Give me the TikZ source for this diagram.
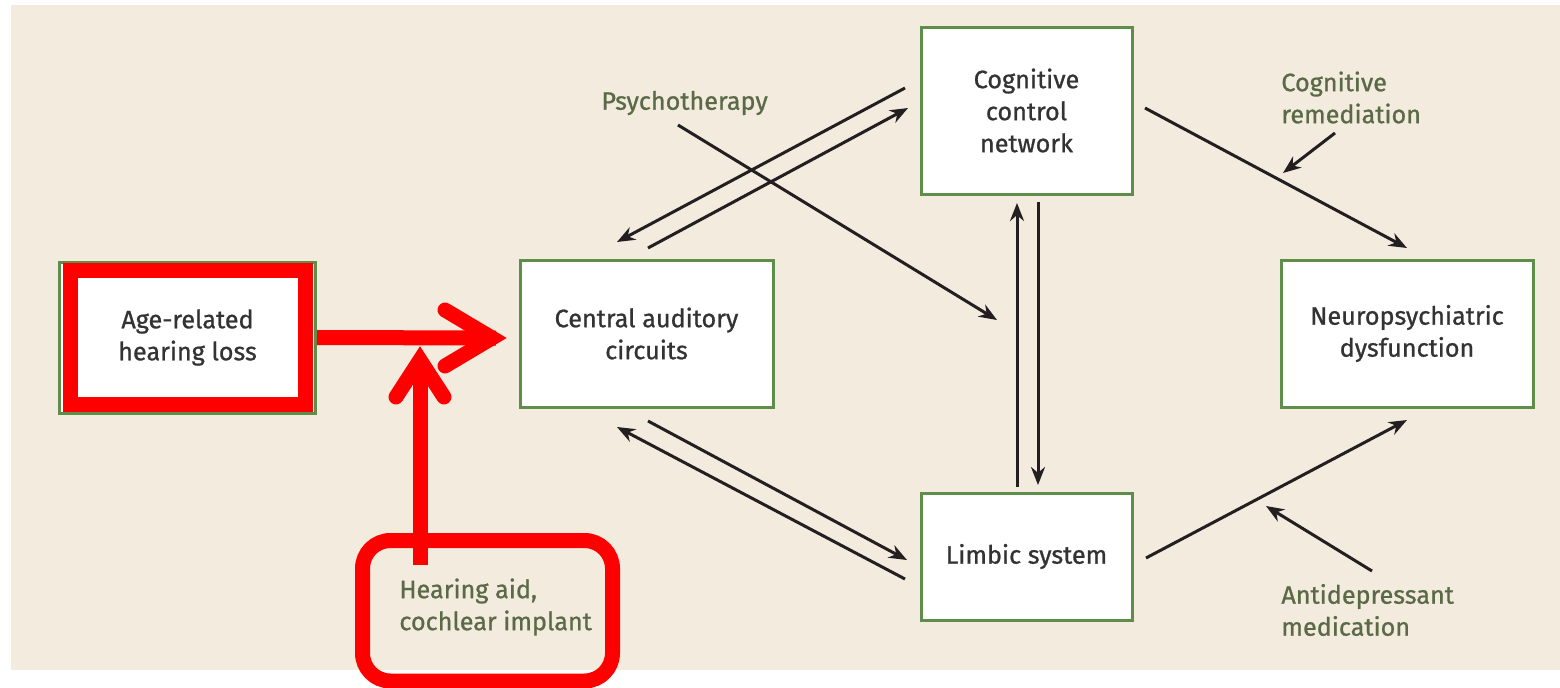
\documentclass[tikz,border=0pt]{standalone}
\usepackage{fontspec}
\setmainfont{Fira Sans}[FakeBold=0.9]
\usetikzlibrary{arrows.meta,calc}
\definecolor{bg}{HTML}{F4EBDF}
\definecolor{boxgreen}{HTML}{5E8E4A}
\definecolor{labgreen}{HTML}{5A6A46}
\definecolor{boxtext}{HTML}{333333}
\definecolor{redc}{HTML}{FF0000}
\definecolor{arrowc}{HTML}{231F20}
\begin{document}
\begin{tikzpicture}[x=0.5pt,y=-0.5pt,
  box/.style={draw=boxgreen,line width=1.5pt,fill=white,inner sep=0pt,text=boxtext,align=center,font=\fontsize{12.6}{16}\selectfont},
  lab/.style={text=labgreen,align=left,anchor=west,inner sep=0pt,font=\fontsize{12.6}{16}\selectfont},
  conn/.style={draw=arrowc,line width=1.5pt,-{Stealth[length=9pt,width=7pt]}},
  redline/.style={draw=redc,line width=7.5pt},
  redhead/.style={draw=redc,line width=7.5pt,line cap=round,line join=miter}]
\useasboundingbox (0,0) rectangle (1560,687);
\fill[white] (0,0) rectangle (1560,687);
\fill[bg] (11,5) rectangle (1560,670);

% boxes
\node[box,minimum width=128pt,minimum height=75.5pt] (age) at (187.5,337.5) {Age-related\\hearing loss};
\node[box,minimum width=126.5pt,minimum height=73.5pt] (cac) at (646.5,333.5) {Central auditory\\circuits};
\node[box,minimum width=105.5pt,minimum height=83.5pt] (ccn) at (1026.5,110.5) {Cognitive\\control\\network};
\node[box,minimum width=105.5pt,minimum height=63.5pt] (lim) at (1026.5,556.5) {Limbic system};
\node[box,minimum width=126pt,minimum height=73.5pt] (neu) at (1407,333.5) {Neuropsychiatric\\dysfunction};

% labels
\node[lab] (psy) at (601,103) {Psychotherapy};
\node[lab] (crem) at (1281,97.5) {Cognitive\\remediation};
\node[lab] (anti) at (1281,610) {Antidepressant\\medication};
\node[lab] (hear) at (399,607) {Hearing aid,\\cochlear implant};

% connector end points
\coordinate (a1s) at (905,88);   \coordinate (a1e) at (617,242);
\coordinate (a2s) at (648,248);  \coordinate (a2e) at (908,108);
\coordinate (ps) at (678,125);   \coordinate (pe) at (997,320);
\coordinate (u1s) at (1017,487); \coordinate (u1e) at (1017,203);
\coordinate (d1s) at (1038,202); \coordinate (d1e) at (1038,485);
\coordinate (b1s) at (648,421);  \coordinate (b1e) at (907,560);
\coordinate (b2s) at (905,579);  \coordinate (b2e) at (617,427);
\coordinate (cns) at (1145,108); \coordinate (cne) at (1407,248);
\coordinate (crs) at (1335,133); \coordinate (cre) at (1283,173);
\coordinate (lns) at (1146,558); \coordinate (lne) at (1407,420);
\coordinate (ads) at (1372,571); \coordinate (ade) at (1266,506);

\draw[conn] (a1s) -- (a1e);
\draw[conn] (a2s) -- (a2e);
\draw[conn] (ps) -- (pe);
\draw[conn] (u1s) -- (u1e);
\draw[conn] (d1s) -- (d1e);
\draw[conn] (b1s) -- (b1e);
\draw[conn] (b2s) -- (b2e);
\draw[conn] (cns) -- (cne);
\draw[conn] (crs) -- (cre);
\draw[conn] (lns) -- (lne);
\draw[conn] (ads) -- (ade);

% red highlights
\draw[redline] (70,270.5) rectangle (305.5,404.5);
\draw[redline,rounded corners=14pt] (362.5,540.5) rectangle (612.5,681);
\coordinate (vs) at (420,565);
\coordinate (vx) at (420,360);
\coordinate (hx) at (492,338);
\draw[redline] (vs) -- (420,372);
\draw[redhead] (396,397) -- (vx) -- (444,397);
\draw[redline] (age.east) -- ($(hx)+(4,0)$);
\draw[redhead] (445,310) -- (hx) -- (445,366);
\end{tikzpicture}
\end{document}
